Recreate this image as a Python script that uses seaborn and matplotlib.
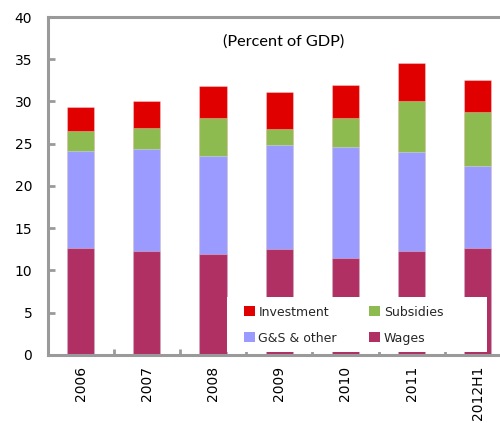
import matplotlib
matplotlib.use("Agg")
import matplotlib.pyplot as plt
from matplotlib.patches import Patch, Rectangle
from matplotlib.ticker import MultipleLocator, FixedLocator
import numpy as np
import pandas as pd
import seaborn as sns

years = ["2006", "2007", "2008", "2009", "2010", "2011", "2012H1"]
wages = [12.7, 12.35, 12.0, 12.5, 11.5, 12.35, 12.7]
goods_services = [11.5, 12.05, 11.5, 12.4, 13.1, 11.65, 9.7]
subsidies = [2.3, 2.5, 4.5, 1.85, 3.4, 6.0, 6.3]
investment = [2.9, 3.1, 3.8, 4.35, 4.0, 4.55, 3.8]

series_names = ["Wages", "G&S & other", "Subsidies", "Investment"]
colors = {
    "Wages": "#B03064",
    "G&S & other": "#9B9BFF",
    "Subsidies": "#8DBB4F",
    "Investment": "#E00000",
}

df = pd.DataFrame({
    "year": years,
    "Wages": wages,
    "G&S & other": goods_services,
    "Subsidies": subsidies,
    "Investment": investment,
})
# running totals so each layer can be drawn as a full-height bar from zero
cum = df[series_names].cumsum(axis=1)
cum["year"] = df["year"]

sns.set_theme(style="white")
plt.rcParams["font.family"] = ["DejaVu Sans"]

W, H = 500, 423
fig = plt.figure(figsize=(W / 100, H / 100), dpi=100)
ax = fig.add_axes([0.095, 0.1608, 0.927, 0.799])

for name in reversed(series_names):
    sns.barplot(data=cum, x="year", y=name, color=colors[name], width=0.41,
                saturation=1, ax=ax, zorder=2,
                edgecolor=(1, 1, 1, 0.3), linewidth=0.8)

ax.set_xlim(-0.5, 6.5)
ax.set_ylim(0, 40)
ax.set_xlabel("")
ax.set_ylabel("")

spine_c = "#9A9A9A"
for side in ["left", "bottom", "top"]:
    ax.spines[side].set_visible(True)
    ax.spines[side].set_color(spine_c)
    ax.spines[side].set_linewidth(2.2)
ax.spines["right"].set_visible(False)

ax.yaxis.set_major_locator(MultipleLocator(5))
ax.tick_params(axis="y", direction="in", length=5, width=2.0, color=spine_c,
               labelsize=10, pad=11, labelcolor="#000000", left=True)
ax.xaxis.set_minor_locator(FixedLocator(np.arange(0.5, 6.0, 1.0)))
ax.tick_params(axis="x", which="major", length=0, labelsize=10, pad=8,
               labelrotation=90, labelcolor="#000000")
ax.tick_params(axis="x", which="minor", direction="in", length=4, width=2.0,
               color=spine_c, bottom=True)

fig.text(0.567, 0.901, "(Percent of GDP)", ha="center", va="center",
         fontsize=11.7, family=["Lato", "DejaVu Sans"], color="#000000")

# white panel behind the legend, covering the lower part of the bars
panel = Rectangle((227 / W, 1 - 352 / H), (487 - 227) / W, (352 - 297) / H,
                  transform=fig.transFigure, facecolor="white",
                  edgecolor="none", zorder=4)
ax.add_patch(panel)
panel.set_clip_on(False)

handles = [Patch(facecolor=colors[n], edgecolor="none", label=n)
           for n in ["Investment", "G&S & other", "Subsidies", "Wages"]]
leg = ax.legend(handles=handles, ncol=2, loc="upper left",
                bbox_to_anchor=(244 / W, 1 - 305.5 / H),
                bbox_transform=fig.transFigure,
                frameon=False, fontsize=9,
                handlelength=0.85, handleheight=0.85, handletextpad=0.3,
                borderpad=0, labelspacing=1.05, columnspacing=2.6,
                borderaxespad=0)
leg.set_zorder(5)

fig.savefig("out.png", dpi=100)
